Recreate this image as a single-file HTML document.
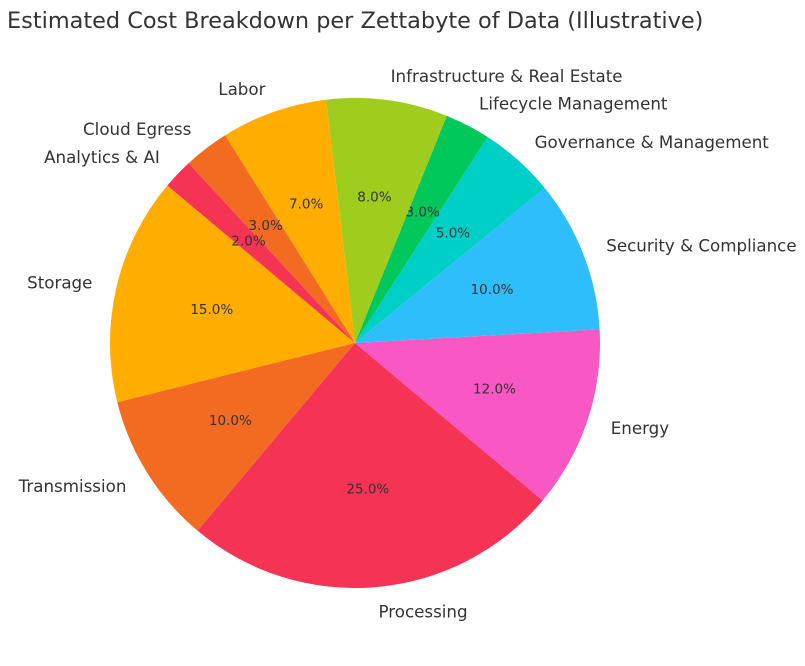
<!DOCTYPE html>
<html><head><meta charset="utf-8"><style>
body{margin:0;background:#fff;width:805px;height:661px;overflow:hidden}
svg text{font-family:"DejaVu Sans","Liberation Sans",sans-serif}
</style></head><body>
<svg id="chart" width="805" height="661" xmlns="http://www.w3.org/2000/svg">
<text x="7" y="28" font-size="22.4" fill="#333">Estimated Cost Breakdown per Zettabyte of Data (Illustrative)</text>
</svg>
<script>
const categories=["Storage","Transmission","Processing","Energy","Security & Compliance","Governance & Management","Lifecycle Management","Infrastructure & Real Estate","Labor","Cloud Egress","Analytics & AI"];
const values=[15,10,25,12,10,5,3,8,7,3,2];
const colors=["#FFAE00","#F26B21","#F53355","#F957C4","#2EBEFB","#00CFC8","#00C85A","#A0CC1E"];
const cx=355,cy=343,R=245,start=140;
const svg=document.getElementById('chart');
const NS="http://www.w3.org/2000/svg";
const total=values.reduce((a,b)=>a+b,0);
let a=start;
function pt(deg,r){const t=deg*Math.PI/180;return [cx+r*Math.cos(t),cy-r*Math.sin(t)];}
values.forEach((v,i)=>{
  const sweep=v/total*360, a2=a+sweep;
  const p1=pt(a,R),p2=pt(a2,R);
  const path=document.createElementNS(NS,'path');
  path.setAttribute('d',`M${cx},${cy} L${p1[0]},${p1[1]} A${R},${R} 0 ${sweep>180?1:0} 0 ${p2[0]},${p2[1]} Z`);
  path.setAttribute('fill',colors[i%colors.length]);
  
  
  svg.appendChild(path);
  const mid=a+sweep/2;
  const lp=pt(mid,R*1.1);
  const lt=document.createElementNS(NS,'text');
  lt.setAttribute('x',lp[0]);lt.setAttribute('y',lp[1]);
  lt.setAttribute('dominant-baseline','central');
  lt.setAttribute('text-anchor',Math.cos(mid*Math.PI/180)>=0?'start':'end');
  lt.setAttribute('font-size','16.7');lt.setAttribute('fill','#333');
  lt.textContent=categories[i];
  
  
  svg.appendChild(lt);
  const pp=pt(mid,R*0.6);
  const pt2=document.createElementNS(NS,'text');
  pt2.setAttribute('x',pp[0]);pt2.setAttribute('y',pp[1]);
  pt2.setAttribute('dominant-baseline','central');pt2.setAttribute('text-anchor','middle');
  pt2.setAttribute('font-size','13.5');pt2.setAttribute('fill','#333');
  pt2.textContent=(v/total*100).toFixed(1)+'%';
  
  
  svg.appendChild(pt2);
  a=a2;
});
</script>
</body></html>
